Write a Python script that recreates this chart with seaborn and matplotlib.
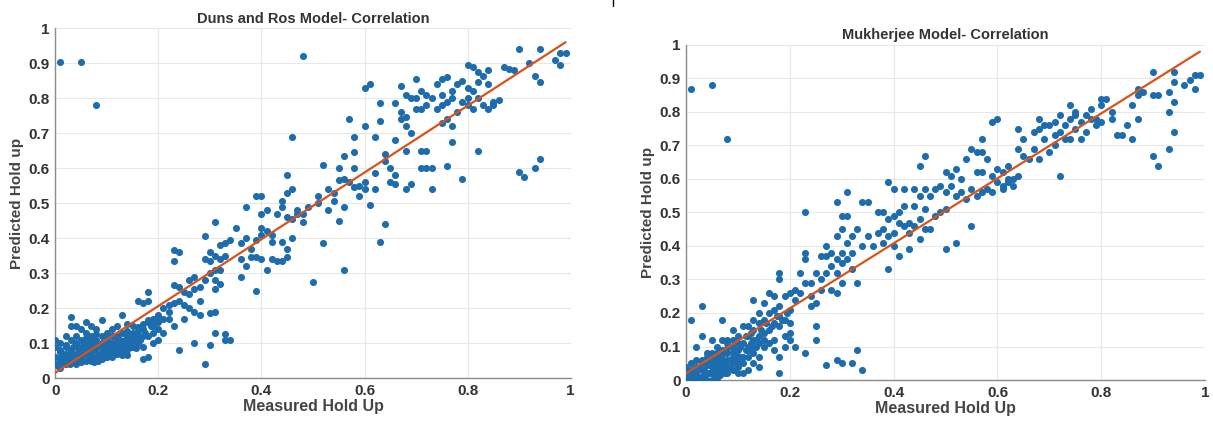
import numpy as np
import matplotlib
matplotlib.use('Agg')
import matplotlib.pyplot as plt
import seaborn as sns
from matplotlib.lines import Line2D

# Data
duns_x = [
    0.01, 0.05, 0.08, 0.48, 0.90, 0.94, 0.98, 0.99, 0.97, 0.98,
    0.93, 0.94, 0.94, 0.93, 0.90, 0.91, 0.87, 0.88, 0.89, 0.92,
    0.80, 0.81, 0.82, 0.83, 0.84, 0.82, 0.84, 0.79, 0.80, 0.81,
    0.78, 0.77, 0.76, 0.75, 0.74, 0.75, 0.76, 0.75, 0.74, 0.73,
    0.72, 0.71, 0.70, 0.70, 0.69, 0.68, 0.72, 0.71, 0.70, 0.78,
    0.79, 0.80, 0.82, 0.83, 0.85, 0.86, 0.84, 0.85, 0.81, 0.80,
    0.77, 0.76, 0.75, 0.77, 0.77, 0.82, 0.79, 0.76, 0.73, 0.72,
    0.71, 0.73, 0.71, 0.72, 0.69, 0.68, 0.68, 0.69, 0.68, 0.68,
    0.67, 0.67, 0.67, 0.66, 0.66, 0.66, 0.66, 0.65, 0.65, 0.64,
    0.64, 0.64, 0.63, 0.63, 0.63, 0.62, 0.62, 0.62, 0.61, 0.61,
    0.60, 0.60, 0.60, 0.60, 0.59, 0.59, 0.58, 0.58, 0.58, 0.58,
    0.57, 0.57, 0.56, 0.56, 0.56, 0.56, 0.55, 0.55, 0.55, 0.54,
    0.54, 0.53, 0.53, 0.52, 0.52, 0.51, 0.51, 0.50, 0.49, 0.48,
    0.48, 0.47, 0.47, 0.46, 0.46, 0.46, 0.46, 0.45, 0.45, 0.45,
    0.45, 0.45, 0.44, 0.44, 0.44, 0.44, 0.43, 0.43, 0.42, 0.42,
    0.42, 0.41, 0.41, 0.41, 0.40, 0.40, 0.40, 0.40, 0.40, 0.39,
    0.39, 0.39, 0.39, 0.38, 0.38, 0.37, 0.37, 0.37, 0.36, 0.36,
    0.36, 0.35, 0.34, 0.34, 0.33, 0.33, 0.33, 0.33, 0.32, 0.32,
    0.32, 0.32, 0.31, 0.31, 0.31, 0.31, 0.31, 0.31, 0.31, 0.30,
    0.30, 0.30, 0.30, 0.30, 0.29, 0.29, 0.29, 0.29, 0.28, 0.28,
    0.28, 0.27, 0.27, 0.27, 0.27, 0.26, 0.26, 0.26, 0.25, 0.25,
    0.25, 0.24, 0.24, 0.24, 0.24, 0.23, 0.23, 0.23, 0.23, 0.23,
    0.22, 0.22, 0.22, 0.21, 0.21, 0.20, 0.20, 0.19, 0.19, 0.19,
    0.18, 0.18, 0.18, 0.18, 0.17, 0.17, 0.17, 0.16, 0.16, 0.16,
    0.15, 0.15, 0.14, 0.14, 0.00, 0.00, 0.00, 0.00, 0.01, 0.01,
    0.01, 0.01, 0.02, 0.02, 0.02, 0.02, 0.03, 0.03, 0.03, 0.03,
    0.03, 0.04, 0.04, 0.04, 0.04, 0.04, 0.05, 0.05, 0.05, 0.05,
    0.05, 0.06, 0.06, 0.06, 0.06, 0.06, 0.07, 0.07, 0.07, 0.07,
    0.07, 0.08, 0.08, 0.08, 0.08, 0.09, 0.09, 0.09, 0.09, 0.09,
    0.10, 0.10, 0.10, 0.10, 0.11, 0.11, 0.11, 0.11, 0.12, 0.12,
    0.12, 0.12, 0.13, 0.13, 0.13, 0.13, 0.14, 0.14, 0.15, 0.15,
    0.16, 0.17, 0.17, 0.18, 0.19, 0.20, 0.20, 0.015, 0.025, 0.035,
    0.045, 0.055, 0.065, 0.075, 0.085, 0.095, 0.105, 0.115, 0.125, 0.135,
    0.015, 0.025, 0.035, 0.045, 0.055, 0.065, 0.075, 0.085, 0.095, 0.105,
    0.115, 0.125, 0.135, 0.145, 0.155, 0.165, 0.175, 0.185, 0.195, 0.21,
    0.005, 0.012, 0.02, 0.028, 0.036, 0.044, 0.052, 0.06, 0.068, 0.076,
    0.084, 0.092, 0.10, 0.108, 0.116, 0.124, 0.132, 0.14, 0.148, 0.156,
    0.02, 0.04, 0.06, 0.08, 0.10, 0.12, 0.14, 0.16, 0.18, 0.20,
    0.01, 0.03, 0.05, 0.07, 0.09, 0.11, 0.13, 0.15, 0.17, 0.19,
]
duns_y = [
    0.905, 0.905, 0.78, 0.92, 0.94, 0.94, 0.93, 0.93, 0.91, 0.895,
    0.865, 0.845, 0.625, 0.60, 0.59, 0.575, 0.89, 0.885, 0.88, 0.90,
    0.895, 0.89, 0.875, 0.865, 0.88, 0.845, 0.84, 0.85, 0.83, 0.82,
    0.84, 0.82, 0.86, 0.855, 0.84, 0.81, 0.79, 0.78, 0.77, 0.80,
    0.81, 0.82, 0.855, 0.80, 0.80, 0.81, 0.78, 0.77, 0.77, 0.76,
    0.79, 0.80, 0.80, 0.78, 0.78, 0.795, 0.77, 0.79, 0.77, 0.78,
    0.80, 0.74, 0.73, 0.72, 0.675, 0.65, 0.57, 0.605, 0.60, 0.60,
    0.60, 0.54, 0.65, 0.65, 0.555, 0.54, 0.65, 0.70, 0.72, 0.745,
    0.74, 0.76, 0.835, 0.785, 0.68, 0.58, 0.555, 0.56, 0.60, 0.64,
    0.62, 0.44, 0.785, 0.735, 0.39, 0.69, 0.585, 0.54, 0.84, 0.495,
    0.83, 0.72, 0.56, 0.54, 0.55, 0.52, 0.69, 0.645, 0.60, 0.545,
    0.74, 0.56, 0.635, 0.57, 0.49, 0.31, 0.60, 0.565, 0.45, 0.53,
    0.505, 0.54, 0.48, 0.61, 0.385, 0.52, 0.50, 0.275, 0.49, 0.47,
    0.445, 0.48, 0.47, 0.69, 0.54, 0.455, 0.40, 0.58, 0.53, 0.46,
    0.37, 0.345, 0.505, 0.49, 0.39, 0.335, 0.47, 0.335, 0.41, 0.39,
    0.34, 0.48, 0.42, 0.31, 0.52, 0.47, 0.43, 0.41, 0.34, 0.52,
    0.395, 0.345, 0.25, 0.37, 0.345, 0.49, 0.32, 0.40, 0.385, 0.34,
    0.29, 0.43, 0.395, 0.11, 0.385, 0.35, 0.125, 0.11, 0.38, 0.34,
    0.31, 0.27, 0.445, 0.35, 0.31, 0.28, 0.255, 0.19, 0.13, 0.36,
    0.335, 0.30, 0.185, 0.095, 0.405, 0.34, 0.28, 0.04, 0.26, 0.22,
    0.18, 0.29, 0.255, 0.19, 0.10, 0.28, 0.24, 0.20, 0.245, 0.21,
    0.17, 0.36, 0.26, 0.22, 0.08, 0.365, 0.335, 0.265, 0.215, 0.15,
    0.21, 0.19, 0.17, 0.20, 0.13, 0.18, 0.16, 0.17, 0.15, 0.10,
    0.245, 0.22, 0.16, 0.06, 0.215, 0.14, 0.055, 0.22, 0.135, 0.12,
    0.15, 0.11, 0.155, 0.08, 0.11, 0.09, 0.06, 0.04, 0.10, 0.08,
    0.05, 0.03, 0.12, 0.09, 0.07, 0.04, 0.175, 0.15, 0.11, 0.08,
    0.05, 0.15, 0.12, 0.10, 0.07, 0.04, 0.14, 0.11, 0.09, 0.06,
    0.045, 0.16, 0.13, 0.10, 0.08, 0.05, 0.15, 0.12, 0.09, 0.07,
    0.05, 0.14, 0.11, 0.085, 0.06, 0.165, 0.12, 0.10, 0.075, 0.055,
    0.13, 0.11, 0.09, 0.06, 0.14, 0.10, 0.08, 0.06, 0.15, 0.12,
    0.09, 0.07, 0.18, 0.13, 0.10, 0.065, 0.12, 0.10, 0.13, 0.09,
    0.10, 0.12, 0.09, 0.12, 0.13, 0.14, 0.11, 0.07, 0.06, 0.09,
    0.085, 0.075, 0.065, 0.08, 0.095, 0.085, 0.10, 0.09, 0.11, 0.09,
    0.045, 0.05, 0.065, 0.055, 0.10, 0.085, 0.10, 0.07, 0.06, 0.075,
    0.12, 0.085, 0.11, 0.105, 0.12, 0.11, 0.13, 0.15, 0.16, 0.17,
    0.035, 0.06, 0.05, 0.04, 0.045, 0.065, 0.05, 0.07, 0.06, 0.045,
    0.05, 0.065, 0.075, 0.085, 0.07, 0.08, 0.075, 0.065, 0.09, 0.085,
    0.095, 0.095, 0.115, 0.125, 0.12, 0.105, 0.135, 0.145, 0.165, 0.175,
    0.075, 0.07, 0.08, 0.105, 0.09, 0.12, 0.085, 0.115, 0.155, 0.165,
]

mukh_x = [
    0.01, 0.05, 0.08, 0.90, 0.94, 0.98, 0.99, 0.97, 0.98, 0.94,
    0.96, 0.93, 0.91, 0.90, 0.88, 0.87, 0.87, 0.86, 0.94, 0.93,
    0.94, 0.93, 0.90, 0.91, 0.87, 0.86, 0.85, 0.84, 0.83, 0.82,
    0.82, 0.81, 0.80, 0.80, 0.80, 0.79, 0.79, 0.78, 0.78, 0.77,
    0.77, 0.76, 0.76, 0.75, 0.75, 0.75, 0.74, 0.74, 0.74, 0.73,
    0.73, 0.72, 0.72, 0.72, 0.71, 0.71, 0.71, 0.70, 0.70, 0.69,
    0.69, 0.68, 0.68, 0.68, 0.67, 0.67, 0.66, 0.65, 0.65, 0.64,
    0.64, 0.64, 0.63, 0.63, 0.62, 0.62, 0.62, 0.61, 0.61, 0.61,
    0.60, 0.60, 0.60, 0.59, 0.59, 0.59, 0.58, 0.58, 0.57, 0.57,
    0.57, 0.57, 0.56, 0.56, 0.56, 0.55, 0.55, 0.55, 0.54, 0.54,
    0.53, 0.53, 0.52, 0.52, 0.52, 0.51, 0.51, 0.50, 0.50, 0.50,
    0.50, 0.49, 0.49, 0.48, 0.48, 0.47, 0.47, 0.46, 0.46, 0.46,
    0.46, 0.45, 0.45, 0.45, 0.45, 0.44, 0.44, 0.44, 0.43, 0.43,
    0.43, 0.42, 0.42, 0.42, 0.41, 0.41, 0.41, 0.40, 0.40, 0.40,
    0.40, 0.39, 0.39, 0.39, 0.39, 0.38, 0.38, 0.38, 0.37, 0.37,
    0.36, 0.35, 0.35, 0.34, 0.34, 0.33, 0.33, 0.32, 0.32, 0.32,
    0.31, 0.31, 0.31, 0.31, 0.30, 0.30, 0.30, 0.30, 0.30, 0.29,
    0.29, 0.29, 0.29, 0.29, 0.28, 0.28, 0.28, 0.27, 0.27, 0.27,
    0.27, 0.26, 0.26, 0.26, 0.25, 0.25, 0.25, 0.25, 0.24, 0.24,
    0.24, 0.23, 0.23, 0.23, 0.23, 0.23, 0.22, 0.22, 0.21, 0.21,
    0.21, 0.20, 0.20, 0.20, 0.20, 0.20, 0.19, 0.19, 0.19, 0.19,
    0.18, 0.18, 0.18, 0.18, 0.18, 0.18, 0.18, 0.17, 0.17, 0.17,
    0.17, 0.17, 0.16, 0.16, 0.16, 0.16, 0.15, 0.15, 0.15, 0.15,
    0.14, 0.14, 0.14, 0.14, 0.14, 0.13, 0.13, 0.13, 0.13, 0.13,
    0.13, 0.12, 0.12, 0.12, 0.12, 0.12, 0.29, 0.30, 0.32, 0.33,
    0.34, 0.00, 0.01, 0.02, 0.03, 0.04, 0.05, 0.06, 0.00, 0.01,
    0.02, 0.03, 0.04, 0.00, 0.01, 0.02, 0.03, 0.04, 0.05, 0.05,
    0.06, 0.06, 0.07, 0.07, 0.08, 0.08, 0.08, 0.09, 0.09, 0.09,
    0.10, 0.10, 0.10, 0.11, 0.11, 0.11, 0.11, 0.03, 0.01, 0.03,
    0.05, 0.07, 0.04, 0.02, 0.06, 0.07, 0.08, 0.09, 0.10, 0.05,
    0.06, 0.07, 0.08, 0.09, 0.10, 0.03, 0.05, 0.015, 0.025, 0.035,
    0.045, 0.055, 0.065, 0.075, 0.085, 0.095, 0.105, 0.115, 0.125, 0.135,
    0.005, 0.015, 0.025, 0.035, 0.045, 0.055, 0.065, 0.075, 0.085, 0.095,
    0.01, 0.02, 0.03, 0.04, 0.05, 0.06, 0.07, 0.08, 0.09, 0.10,
    0.105, 0.115, 0.125, 0.135, 0.145, 0.155, 0.165, 0.175, 0.185, 0.195,
    0.06, 0.07, 0.08, 0.09, 0.10, 0.11, 0.12, 0.13, 0.14, 0.15,
]
mukh_y = [
    0.87, 0.88, 0.72, 0.92, 0.92, 0.91, 0.91, 0.895, 0.87, 0.89,
    0.88, 0.86, 0.85, 0.85, 0.86, 0.87, 0.85, 0.82, 0.83, 0.80,
    0.74, 0.69, 0.67, 0.64, 0.78, 0.72, 0.76, 0.73, 0.73, 0.80,
    0.78, 0.84, 0.84, 0.82, 0.77, 0.78, 0.76, 0.81, 0.78, 0.79,
    0.74, 0.77, 0.72, 0.80, 0.79, 0.75, 0.82, 0.78, 0.72, 0.76,
    0.72, 0.79, 0.74, 0.61, 0.77, 0.73, 0.70, 0.76, 0.68, 0.76,
    0.72, 0.78, 0.75, 0.66, 0.74, 0.69, 0.66, 0.72, 0.67, 0.75,
    0.69, 0.61, 0.60, 0.58, 0.64, 0.60, 0.59, 0.62, 0.58, 0.57,
    0.78, 0.63, 0.59, 0.77, 0.61, 0.56, 0.66, 0.57, 0.72, 0.68,
    0.62, 0.56, 0.68, 0.62, 0.55, 0.69, 0.57, 0.46, 0.66, 0.54,
    0.60, 0.56, 0.63, 0.55, 0.41, 0.61, 0.58, 0.62, 0.56, 0.51,
    0.39, 0.58, 0.50, 0.57, 0.49, 0.55, 0.45, 0.67, 0.57, 0.51,
    0.45, 0.64, 0.55, 0.48, 0.42, 0.57, 0.52, 0.46, 0.47, 0.44,
    0.39, 0.57, 0.52, 0.46, 0.50, 0.47, 0.37, 0.57, 0.49, 0.44,
    0.40, 0.59, 0.48, 0.43, 0.33, 0.50, 0.45, 0.41, 0.50, 0.44,
    0.40, 0.53, 0.43, 0.53, 0.40, 0.45, 0.29, 0.43, 0.38, 0.33,
    0.56, 0.49, 0.41, 0.36, 0.49, 0.45, 0.38, 0.35, 0.29, 0.53,
    0.43, 0.36, 0.32, 0.26, 0.38, 0.34, 0.27, 0.40, 0.37, 0.32,
    0.045, 0.37, 0.30, 0.27, 0.32, 0.23, 0.16, 0.12, 0.29, 0.25,
    0.22, 0.50, 0.38, 0.36, 0.29, 0.08, 0.32, 0.26, 0.27, 0.24,
    0.10, 0.26, 0.21, 0.17, 0.14, 0.12, 0.25, 0.18, 0.13, 0.10,
    0.32, 0.30, 0.22, 0.19, 0.16, 0.07, 0.02, 0.25, 0.21, 0.17,
    0.12, 0.09, 0.26, 0.20, 0.15, 0.11, 0.23, 0.18, 0.14, 0.10,
    0.20, 0.17, 0.13, 0.07, 0.04, 0.24, 0.18, 0.15, 0.12, 0.08,
    0.05, 0.16, 0.13, 0.10, 0.07, 0.03, 0.06, 0.05, 0.05, 0.09,
    0.03, 0.00, 0.00, 0.00, 0.00, 0.00, 0.00, 0.00, 0.02, 0.03,
    0.02, 0.03, 0.02, 0.04, 0.05, 0.06, 0.05, 0.07, 0.04, 0.08,
    0.05, 0.10, 0.06, 0.12, 0.08, 0.04, 0.12, 0.07, 0.10, 0.15,
    0.05, 0.09, 0.13, 0.07, 0.11, 0.16, 0.02, 0.13, 0.18, 0.22,
    0.12, 0.18, 0.08, 0.10, 0.02, 0.03, 0.02, 0.03, 0.02, 0.06,
    0.07, 0.09, 0.11, 0.12, 0.11, 0.01, 0.02, 0.01, 0.04, 0.03,
    0.05, 0.03, 0.04, 0.05, 0.06, 0.08, 0.07, 0.09, 0.11, 0.10,
    0.01, 0.02, 0.01, 0.015, 0.02, 0.01, 0.015, 0.02, 0.04, 0.05,
    0.015, 0.04, 0.06, 0.045, 0.055, 0.08, 0.075, 0.095, 0.085, 0.07,
    0.10, 0.13, 0.14, 0.12, 0.15, 0.17, 0.16, 0.19, 0.18, 0.20,
    0.035, 0.045, 0.06, 0.055, 0.04, 0.05, 0.09, 0.10, 0.11, 0.12,
]

# Fitted lines (end points)
fit_x = [0.0, 0.99]
duns_fit_y = [0.015, 0.96]
mukh_fit_y = [0.02, 0.98]

titles = ['Duns and Ros Model- Correlation', 'Mukherjee Model- Correlation']
x_ticks = [0, 0.2, 0.4, 0.6, 0.8, 1]
x_tick_labels = ['0', '0.2', '0.4', '0.6', '0.8', '1']
y_ticks = [0, 0.1, 0.2, 0.3, 0.4, 0.5, 0.6, 0.7, 0.8, 0.9, 1]
y_tick_labels = ['0', '0.1', '0.2', '0.3', '0.4', '0.5', '0.6', '0.7', '0.8', '0.9', '1']

sns.set_style('whitegrid')
plt.rcParams['font.family'] = ['Liberation Sans', 'DejaVu Sans']

dot_color = '#1c6cae'
line_color = '#d95319'

fig = plt.figure(figsize=(12.13, 4.22), dpi=100)
ax1 = fig.add_axes([0.0455, 0.104, 0.425, 0.829])
ax2 = fig.add_axes([0.5655, 0.0995, 0.428, 0.794])

panels = [
    (ax1, duns_x, duns_y, duns_fit_y, titles[0]),
    (ax2, mukh_x, mukh_y, mukh_fit_y, titles[1]),
]

for ax, xs, ys, fy, title in panels:
    sns.scatterplot(x=xs, y=ys, ax=ax, color=dot_color, s=26, linewidth=0, zorder=3)
    sns.lineplot(x=fit_x, y=fy, ax=ax, color=line_color, linewidth=1.6, zorder=4)
    ax.set_xlim(0, 1)
    ax.set_ylim(0, 1)
    ax.set_xticks(x_ticks)
    ax.set_xticklabels(x_tick_labels)
    ax.set_yticks(y_ticks)
    ax.set_yticklabels(y_tick_labels)
    ax.grid(True, color='#e8e8e8', linewidth=0.8)
    ax.set_axisbelow(True)
    for side in ['top', 'right']:
        ax.spines[side].set_visible(False)
    for side in ['left', 'bottom']:
        ax.spines[side].set_visible(True)
        ax.spines[side].set_color('#8c8c8c')
        ax.spines[side].set_linewidth(1.0)
    ax.tick_params(axis='both', direction='in', length=3, width=0.8,
                   colors='#8c8c8c', labelcolor='#333333', labelsize=11, pad=4)
    for lbl in ax.get_xticklabels() + ax.get_yticklabels():
        lbl.set_fontweight('bold')
    ax.set_title(title, fontsize=10.5, fontweight='bold', color='#333333', pad=4)
    ax.set_xlabel('Measured Hold Up', fontsize=11.5, fontweight='bold', color='#444444', labelpad=1)
    ax.set_ylabel('Predicted Hold up', fontsize=11, fontweight='bold', color='#444444', labelpad=3)

# little mark at the top between the panels
fig.add_artist(Line2D([0.5055, 0.5055], [0.985, 1.0], color='black', linewidth=1))

plt.savefig('out.png', dpi=100)
